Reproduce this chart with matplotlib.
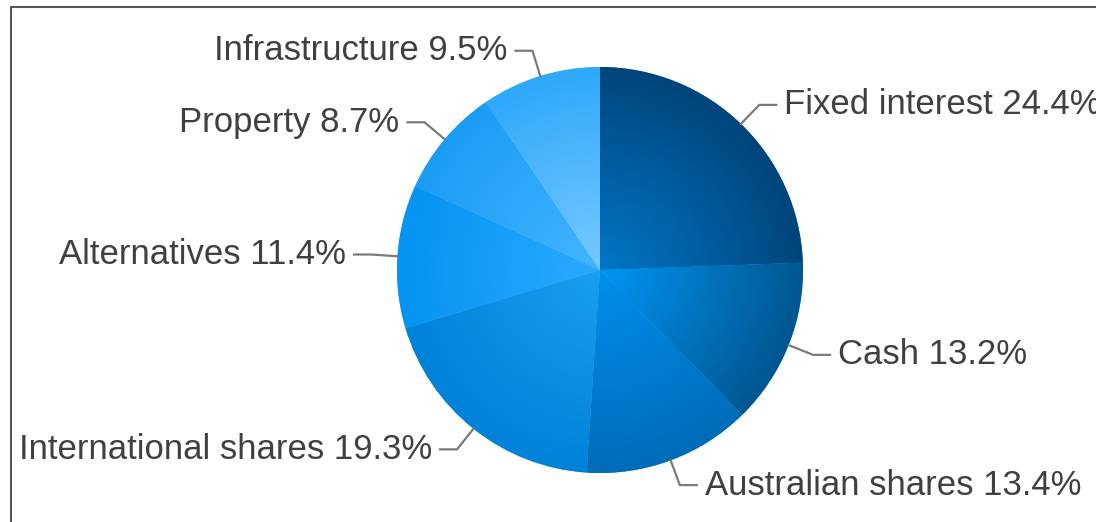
import matplotlib
matplotlib.use("Agg")
import matplotlib.pyplot as plt
import matplotlib.colors as mcolors
import numpy as np

# Data
labels = ["Fixed interest", "Cash", "Australian shares", "International shares",
          "Alternatives", "Property", "Infrastructure"]
values = [24.4, 13.2, 13.4, 19.3, 11.4, 8.7, 9.5]
# radial gradient colours (centre -> edge)
inner_colors = ["#0077c8", "#0096f5", "#0090ee", "#1aa0f0", "#2aaaff", "#44b6ff", "#78caff"]
outer_colors = ["#00457a", "#00568f", "#006cb8", "#0082d8", "#0594f2", "#1a9cf5", "#2ea8fa"]

W, H = 1096, 522
cx, cy, R = 600, H - 270, 203

plt.rcParams['font.family'] = ['Liberation Sans', 'DejaVu Sans']
fig = plt.figure(figsize=(W / 100, H / 100), dpi=100)
ax = fig.add_axes([0, 0, 1, 1])

wedges, _ = ax.pie(values, startangle=90, counterclock=False, center=(cx, cy),
                   radius=R, colors=inner_colors, wedgeprops=dict(linewidth=0))
ax.set_xlim(0, W)
ax.set_ylim(0, H)
ax.set_aspect('auto')
ax.axis('off')

# Radial gradient fill for each wedge
n = 500
xs = np.linspace(cx - R, cx + R, n)
ys = np.linspace(cy - R, cy + R, n)
XX, YY = np.meshgrid(xs, ys)
t = np.clip(np.hypot(XX - cx, YY - cy) / R, 0, 1)[..., None]
for w, c0, c1 in zip(wedges, inner_colors, outer_colors):
    a = np.array(mcolors.to_rgb(c0))
    b = np.array(mcolors.to_rgb(c1))
    img = a * (1 - t) + b * t
    im = ax.imshow(img, extent=(cx - R, cx + R, cy - R, cy + R), origin='lower',
                   interpolation='bilinear', zorder=2)
    im.set_clip_path(w)

# Leader lines and labels
for w, lab, v in zip(wedges, labels, values):
    ang = np.deg2rad((w.theta1 + w.theta2) / 2)
    x0, y0 = cx + R * np.cos(ang), cy + R * np.sin(ang)
    x1, y1 = cx + R * 1.13 * np.cos(ang), cy + R * 1.13 * np.sin(ang)
    s = 1 if np.cos(ang) >= 0 else -1
    x2 = x1 + s * 17
    ax.plot([x0, x1, x2], [y0, y1, y1], color="#7a7a7a", lw=1.6, zorder=3,
            solid_joinstyle='miter')
    ax.text(x2 + s * 8, y1, f"{lab} {v}%", ha='left' if s > 0 else 'right',
            va='center', fontsize=25, color="#404040", zorder=4)

# Outer frame
ax.plot([11, 11, W + 5], [-5, H - 7, H - 7], color="#555555", lw=1.5, zorder=1)

fig.savefig("out.png", dpi=100)
plt.close()
